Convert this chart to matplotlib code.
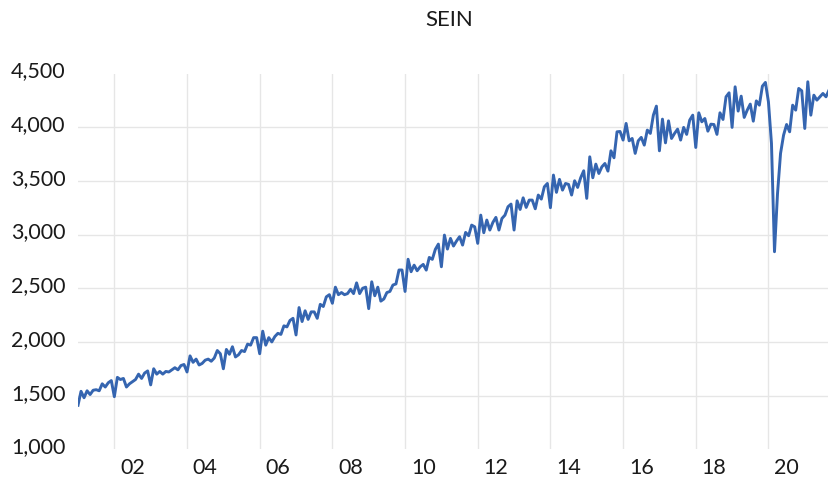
import matplotlib
matplotlib.use('Agg')
import matplotlib.pyplot as plt
from matplotlib.transforms import ScaledTranslation
import numpy as np
import pandas as pd

# monthly SEIN production, Feb 2001 .. Jun 2021
months = pd.date_range('2001-02-01', periods=249, freq='MS')
sein = [
    1410, 1540, 1480, 1545, 1510, 1550, 1555, 1545, 1610, 1580, 1620, 1640,
    1490, 1670, 1650, 1660, 1580, 1610, 1630, 1650, 1700, 1660, 1710, 1730,
    1600, 1750, 1700, 1725, 1700, 1725, 1720, 1740, 1760, 1740, 1780, 1790,
    1720, 1870, 1810, 1840, 1785, 1800, 1830, 1840, 1820, 1850, 1920, 1890,
    1750, 1930, 1885, 1955, 1860, 1880, 1920, 1910, 1980, 1970, 2040, 2040,
    1890, 2100, 1970, 2040, 2000, 2050, 2080, 2070, 2150, 2140, 2200, 2220,
    2065, 2320, 2190, 2290, 2210, 2280, 2280, 2220, 2350, 2330, 2420, 2440,
    2360, 2510, 2440, 2460, 2440, 2450, 2490, 2450, 2550, 2450, 2500, 2510,
    2310, 2560, 2430, 2510, 2380, 2400, 2460, 2470, 2530, 2540, 2670, 2670,
    2470, 2770, 2654, 2715, 2663, 2700, 2722, 2669, 2787, 2769, 2862, 2911,
    2700, 2995, 2865, 2964, 2893, 2940, 2980, 2902, 3020, 2989, 3088, 3072,
    2918, 3181, 3017, 3135, 3042, 3113, 3160, 3042, 3150, 3181, 3259, 3284,
    3042, 3314, 3234, 3342, 3253, 3321, 3321, 3240, 3368, 3330, 3445, 3476,
    3250, 3554, 3393, 3514, 3414, 3476, 3467, 3368, 3501, 3439, 3529, 3594,
    3337, 3724, 3529, 3656, 3569, 3631, 3662, 3591, 3780, 3715, 3957, 3960,
    3880, 4035, 3873, 3895, 3756, 3873, 3905, 3833, 3973, 3942, 4112, 4196,
    3780, 4075, 3854, 4059, 3895, 3942, 3982, 3880, 3998, 3933, 4066, 4112,
    3811, 4134, 4050, 4081, 3963, 4028, 4025, 3933, 4134, 4072, 4283, 4320,
    3998, 4376, 4150, 4289, 4091, 4159, 4215, 4056, 4245, 4205, 4382, 4417,
    4236, 3850, 2840, 3383, 3756, 3926, 4025, 3957, 4205, 4159, 4361, 4339,
    3988, 4423, 4112, 4298, 4252, 4283, 4314, 4283, 4345,
]
y_ticks = [1000, 1500, 2000, 2500, 3000, 3500, 4000, 4500]
label_years = [2002, 2004, 2006, 2008, 2010, 2012, 2014, 2016, 2018, 2020]

plt.rcParams['font.family'] = ['Lato', 'DejaVu Sans']

fig = plt.figure(figsize=(8.29, 4.79), dpi=100)
ax = fig.add_axes([78 / 829, 29.7 / 479, 751 / 829, 375.8 / 479])

x = np.arange(len(sein))
ax.plot(x, sein, color='#3565b0', linewidth=2.1, solid_joinstyle='round')

# gridlines at Feb of even years, labels half a year later
pos = {d: i for i, d in enumerate(months)}
grid_x = [pos[pd.Timestamp(year=y, month=2, day=1)] for y in label_years]
lab_x = [pos[pd.Timestamp(year=y, month=8, day=1)] for y in label_years]
for gx in grid_x:
    ax.axvline(gx, color='#e6e6e6', linewidth=1.0, zorder=0)
for yt in y_ticks[1:-1]:
    ax.axhline(yt, color='#e6e6e6', linewidth=1.0, zorder=0)

ax.set_xticks(lab_x)
ax.set_xticklabels(['%02d' % (y % 100) for y in label_years])
ax.set_yticks(y_ticks)
ax.set_yticklabels(['{:,}'.format(v) for v in y_ticks])
ax.tick_params(axis='both', length=0, labelsize=15.5, colors='#1a1a1a')
ax.tick_params(axis='y', pad=9)
ax.tick_params(axis='x', pad=6)
shift = ScaledTranslation(0, 4 / 100, fig.dpi_scale_trans)
for lab in ax.get_yticklabels():
    lab.set_transform(lab.get_transform() + shift)

ax.set_xlim(0, 248)
ax.set_ylim(1000, 4500)
for s in ax.spines.values():
    s.set_visible(False)

fig.text(449 / 829, 1 - 20 / 479, 'SEIN', ha='center', va='center', fontsize=16, color='#1a1a1a')

plt.savefig('out.png', dpi=100)
